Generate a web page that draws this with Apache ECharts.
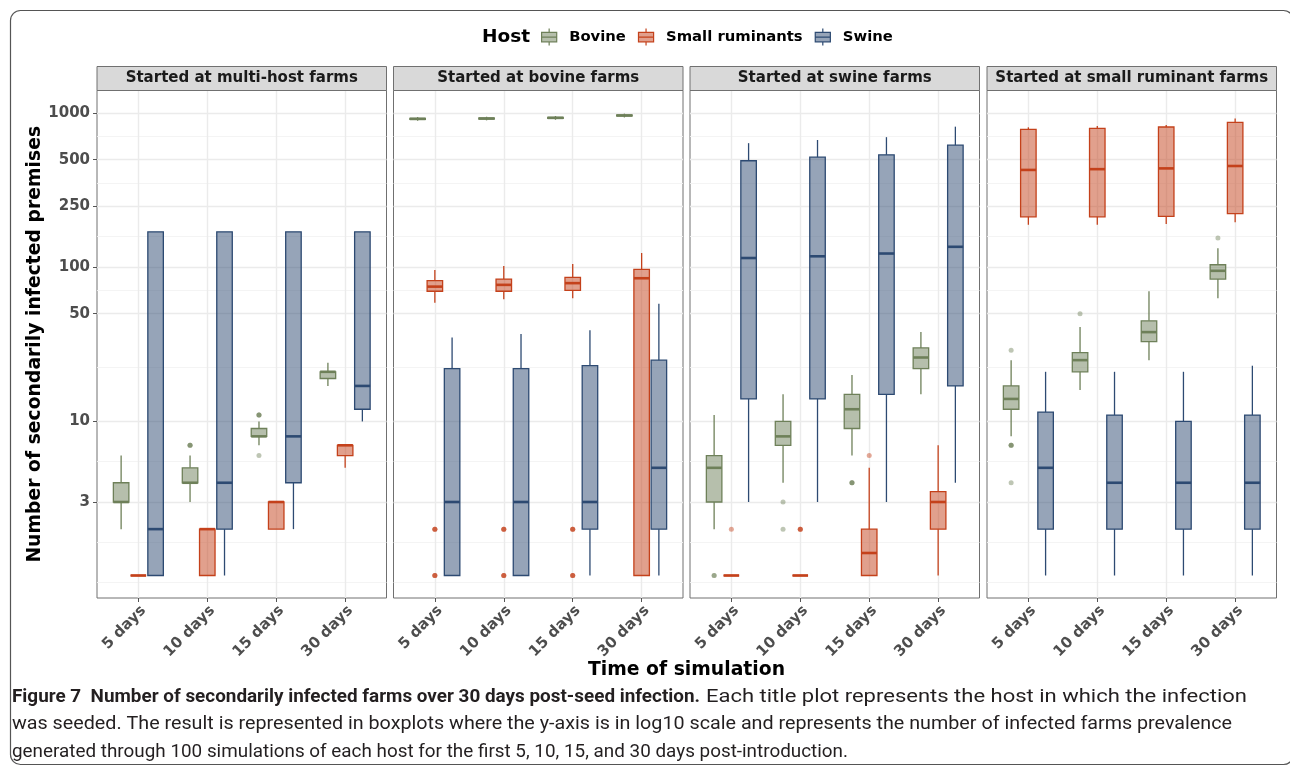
<!DOCTYPE html>
<html>
<head>
<meta charset="utf-8">
<script src="https://cdn.jsdelivr.net/npm/echarts@6/dist/echarts.min.js"></script>
<style>
  html, body { margin: 0; padding: 0; background: #ffffff; }
  #chart { width: 1290px; height: 770px; }
</style>
</head>
<body>
<div id="chart"></div>
<script>
// ---- data -------------------------------------------------------------
const days = ['5 days', '10 days', '15 days', '30 days'];
const hosts = ['Bovine', 'Small ruminants', 'Swine'];
const panels = [
  'Started at multi-host farms',
  'Started at bovine farms',
  'Started at swine farms',
  'Started at small ruminant farms'
];
const yTicks = [3, 10, 50, 100, 250, 500, 1000];

// five-number summaries [min, Q1, median, Q3, max]; one row per panel, one entry per day
const bovineStats = [
  [[2, 3, 3, 4, 6], [3, 4, 4, 5, 6], [7, 8, 8, 9, 10], [17, 19, 21, 21, 24]],
  [[895, 913, 920, 927, 945], [900, 918, 925, 932, 950], [908, 927, 934, 941, 960], [940, 961, 968, 975, 995]],
  [[2, 3, 5, 6, 11], [4, 7, 8, 10, 15], [6, 9, 12, 15, 20], [15, 22, 26, 30, 38]],
  [[8, 12, 14, 17, 25], [16, 21, 25, 28, 41], [25, 33, 38, 45, 70], [63, 84, 95, 104, 133]]
];
const smallRuminantStats = [
  [[1, 1, 1, 1, 1], [1, 1, 2, 2, 2], [2, 2, 3, 3, 3], [5, 6, 7, 7, 7]],
  [[59, 70, 75, 82, 96], [62, 70, 77, 84, 102], [63, 71, 79, 86, 105], [1, 1, 85, 97, 124]],
  [[1, 1, 1, 1, 1], [1, 1, 1, 1, 1], [1, 1, 1.4, 2, 5], [1, 2, 3, 3.5, 7]],
  [[189, 213, 429, 786, 811], [189, 213, 434, 798, 828], [191, 214, 439, 815, 841], [196, 223, 455, 873, 925]]
];
const swineStats = [
  [[1, 1, 2, 170, 170], [1, 2, 4, 170, 170], [2, 4, 8, 170, 170], [10, 12, 17, 170, 170]],
  [[1, 1, 3, 22, 35], [1, 1, 3, 22, 37], [1, 2, 3, 23, 39], [1, 2, 5, 25, 58]],
  [[3, 14, 115, 492, 640], [3, 14, 118, 519, 671], [3, 15, 123, 538, 700], [4, 17, 136, 621, 819]],
  [[1, 2, 5, 11.5, 21], [1, 2, 4, 11, 21], [1, 2, 4, 10, 21], [1, 2, 4, 11, 23]]
];

// outlying runs [panel, day, value]; repeated runs overlap and show darker
const bovineOutliers = [
  [0, 1, 7], [0, 1, 7], [0, 1, 7],
  [0, 2, 11], [0, 2, 11], [0, 2, 11], [0, 2, 6],
  [2, 0, 1], [2, 0, 1],
  [2, 1, 3], [2, 1, 2],
  [2, 2, 4], [2, 2, 4], [2, 2, 4],
  [3, 0, 29], [3, 0, 7], [3, 0, 7], [3, 0, 7], [3, 0, 4],
  [3, 1, 50],
  [3, 3, 155]
];
const smallRuminantOutliers = [
  [1, 0, 2], [1, 0, 2], [1, 0, 2], [1, 0, 1], [1, 0, 1], [1, 0, 1],
  [1, 1, 2], [1, 1, 2], [1, 1, 2], [1, 1, 1], [1, 1, 1], [1, 1, 1],
  [1, 2, 2], [1, 2, 2], [1, 2, 2], [1, 2, 1], [1, 2, 1], [1, 2, 1],
  [2, 0, 2],
  [2, 1, 2], [2, 1, 2], [2, 1, 2],
  [2, 2, 6]
];
const swineOutliers = [];

// ---- styling / layout -------------------------------------------------
const FONT = "'DejaVu Sans', 'Noto Sans', sans-serif";
const strokeColors = ['#6E8059', '#C4411B', '#2D4A72'];
const fillColors = ['rgba(110,128,89,0.5)', 'rgba(196,65,27,0.5)', 'rgba(45,74,114,0.5)'];
const panelLeft = [97, 393.5, 690, 987];
const panelWidth = 289.5;
const panelTop = 90.5;
const panelHeight = 507.5;
const stripHeight = 24;
const Y_MIN = -0.146, Y_MAX = 3.148;     // log10 range of the panels
const X_MIN = -0.6, X_MAX = 3.6;
const DODGE = 0.25, BOX_W = 0.225;

const log10 = Math.log10;
const majorLog = yTicks.map(log10);
// minor grid lines sit halfway between breaks, extended one step below the first
const minorLog = (function () {
  const b = majorLog.slice();
  b.unshift(b[0] - (b[1] - b[0]));
  const out = [b[0]];
  for (let i = 0; i < b.length - 1; i++) out.push((b[i] + b[i + 1]) / 2);
  return out;
})();

const statsByHost = [bovineStats, smallRuminantStats, swineStats];
const outliersByHost = [bovineOutliers, smallRuminantOutliers, swineOutliers];

function makeBoxRenderer(hostIdx) {
  return function (params, api) {
    const x = api.value(0) + (api.value(1) - 1) * DODGE;
    const half = api.size([BOX_W, 0])[0] / 2;
    const pMin = api.coord([x, api.value(2)]);
    const pQ1 = api.coord([x, api.value(3)]);
    const pMed = api.coord([x, api.value(4)]);
    const pQ3 = api.coord([x, api.value(5)]);
    const pMax = api.coord([x, api.value(6)]);
    const stroke = strokeColors[hostIdx];
    const cx = pMed[0];
    return {
      type: 'group',
      children: [
        { type: 'line', shape: { x1: cx, y1: pQ3[1], x2: cx, y2: pMax[1] }, style: { stroke, lineWidth: 1.3 } },
        { type: 'line', shape: { x1: cx, y1: pQ1[1], x2: cx, y2: pMin[1] }, style: { stroke, lineWidth: 1.3 } },
        { type: 'rect', shape: { x: cx - half, y: pQ3[1], width: half * 2, height: pQ1[1] - pQ3[1] },
          style: { fill: fillColors[hostIdx], stroke, lineWidth: 1.3 } },
        { type: 'line', shape: { x1: cx - half, y1: pMed[1], x2: cx + half, y2: pMed[1] }, style: { stroke, lineWidth: 2.6 } }
      ]
    };
  };
}

const grids = [], xAxes = [], yAxes = [], series = [], graphics = [];

panels.forEach((title, p) => {
  grids.push({
    left: panelLeft[p], top: panelTop, width: panelWidth, height: panelHeight,
    show: true, borderColor: '#707070', borderWidth: 1, backgroundColor: '#ffffff'
  });
  xAxes.push({
    type: 'value', gridIndex: p, min: X_MIN, max: X_MAX, position: 'bottom',
    axisLine: { show: false, onZero: false },
    axisTick: { show: true, customValues: [0, 1, 2, 3], length: 4, lineStyle: { color: '#555', width: 1 } },
    axisLabel: {
      customValues: [0, 1, 2, 3], formatter: v => days[Math.round(v)], rotate: 45, margin: 5,
      verticalAlign: 'top',
      fontFamily: FONT, fontWeight: 'bold', fontSize: 15, color: '#4D4D4D'
    },
    splitLine: { show: true, lineStyle: { color: '#EBEBEB', width: 1.4 } }
  });
  yAxes.push({
    type: 'value', gridIndex: p, min: Y_MIN, max: Y_MAX, position: 'left',
    axisLine: { show: false, onZero: false },
    axisTick: { show: p === 0, customValues: majorLog, length: 4, lineStyle: { color: '#555', width: 1 } },
    axisLabel: {
      show: p === 0, customValues: majorLog, margin: 7,
      formatter: v => String(Math.round(Math.pow(10, v))),
      fontFamily: FONT, fontWeight: 'bold', fontSize: 15, color: '#4D4D4D'
    },
    splitLine: { show: true, lineStyle: { color: '#EBEBEB', width: 1.4 } },
    name: p === 0 ? 'Number of secondarily infected premises' : '',
    nameLocation: 'middle', nameGap: 52, nameRotate: 90,
    nameTextStyle: { fontFamily: FONT, fontWeight: 'bold', fontSize: 18.8, color: '#000000' }
  });

  // strip with the panel title
  graphics.push({
    type: 'rect', z: 10,
    shape: { x: panelLeft[p], y: panelTop - stripHeight, width: panelWidth, height: stripHeight },
    style: { fill: '#D9D9D9', stroke: '#707070', lineWidth: 1 }
  });
  graphics.push({
    type: 'text', z: 11,
    x: panelLeft[p] + panelWidth / 2, y: panelTop - stripHeight / 2,
    style: { text: title, font: `bold 15px ${FONT}`, fill: '#1A1A1A', align: 'center', verticalAlign: 'middle' }
  });
});

// second y axis per panel carries the minor grid lines
panels.forEach((title, p) => {
  yAxes.push({
    type: 'value', gridIndex: p, min: Y_MIN, max: Y_MAX, position: 'left',
    axisLine: { show: false, onZero: false },
    axisTick: { show: false, customValues: minorLog },
    axisLabel: { show: false, customValues: minorLog },
    splitLine: { show: true, lineStyle: { color: '#F3F3F3', width: 0.9 } }
  });
});

hosts.forEach((host, h) => {
  panels.forEach((title, p) => {
    series.push({
      type: 'custom', name: host, xAxisIndex: p, yAxisIndex: p, z: 3,
      renderItem: makeBoxRenderer(h),
      itemStyle: { color: fillColors[h], borderColor: strokeColors[h] },
      encode: { x: 0, y: [2, 3, 4, 5, 6] },
      data: statsByHost[h][p].map((s, d) => [d, h].concat(s.map(log10)))
    });
    const pts = outliersByHost[h].filter(o => o[0] === p).map(o => [o[1] + (h - 1) * DODGE, log10(o[2])]);
    if (pts.length) {
      series.push({
        type: 'scatter', name: host, xAxisIndex: p, yAxisIndex: p, z: 4,
        symbol: 'circle', symbolSize: 5,
        itemStyle: { color: strokeColors[h], opacity: 0.45 },
        data: pts
      });
    }
  });
});

const boxIcon = 'path://M0,4 L16,4 L16,14 L0,14 Z M0,9 L16,9 M8,0 L8,4 M8,14 L8,18';

// frame around the figure
graphics.push({
  type: 'rect', z: 0, silent: true,
  shape: { x: 10.5, y: 10.5, width: 1283, height: 754, r: 10 },
  style: { fill: 'none', stroke: '#555555', lineWidth: 1.2 }
});
// legend title
graphics.push({
  type: 'text', x: 482, y: 37,
  style: { text: 'Host', font: `bold 18.5px ${FONT}`, fill: '#000000', verticalAlign: 'middle' }
});
// x axis title
graphics.push({
  type: 'text', x: 686.5, y: 670,
  style: { text: 'Time of simulation', font: `bold 18.8px ${FONT}`, fill: '#000000', align: 'center', verticalAlign: 'middle' }
});

// caption: each run of text is fitted to its own span on the line
const CAP_FONT = "Roboto, 'Liberation Sans', sans-serif";
const CAP_SIZE = 18;
const captionRuns = [
  { text: 'Figure 7  Number of secondarily infected farms over 30 days post-seed infection.', bold: true, line: 0, from: 12, to: 700 },
  { text: 'Each title plot represents the host in which the infection', bold: false, line: 0, from: 706, to: 1247 },
  { text: 'was seeded. The result is represented in boxplots where the y-axis is in log10 scale and represents the number of infected farms prevalence', bold: false, line: 1, from: 12, to: 1232 },
  { text: 'generated through 100 simulations of each host for the first 5, 10, 15, and 30 days post-introduction.', bold: false, line: 2, from: 12, to: 848 }
];
const measureCtx = document.createElement('canvas').getContext('2d');
captionRuns.forEach(run => {
  const font = `${run.bold ? 'bold ' : ''}${CAP_SIZE}px ${CAP_FONT}`;
  measureCtx.font = font;
  const scale = (run.to - run.from) / measureCtx.measureText(run.text).width;
  graphics.push({
    type: 'text', x: run.from, y: 697 + run.line * 27.5, scaleX: scale,
    style: { text: run.text, font, fill: '#231F20', verticalAlign: 'middle' }
  });
});

const chart = echarts.init(document.getElementById('chart'), null, { renderer: 'canvas' });
chart.setOption({
  animation: false,
  backgroundColor: '#ffffff',
  legend: {
    left: 541, top: 28, padding: 0, itemWidth: 16, itemHeight: 17, itemGap: 12,
    selectedMode: false,
    textStyle: { fontFamily: FONT, fontWeight: 'bold', fontSize: 14.8, color: '#000000', padding: [0, 0, 0, 7] },
    data: hosts.map((h, i) => ({
      name: h, icon: boxIcon,
      itemStyle: { color: fillColors[i], borderColor: strokeColors[i], borderWidth: 1.2 }
    }))
  },
  grid: grids,
  xAxis: xAxes,
  yAxis: yAxes,
  series: series,
  graphic: graphics
});
</script>
</body>
</html>
